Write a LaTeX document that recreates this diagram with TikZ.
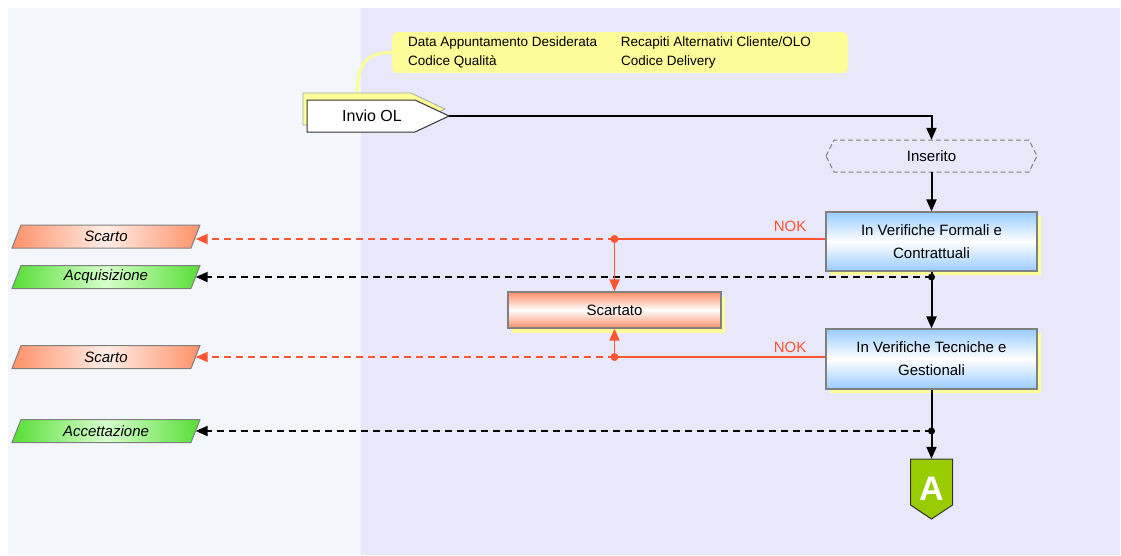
\documentclass[tikz,border=0pt]{standalone}
\usepackage{fontspec}
\setmainfont{Liberation Sans}
\usetikzlibrary{arrows.meta,shadows}
\definecolor{leftbg}{HTML}{F3F7FB}
\definecolor{rightbg}{HTML}{E8E8FA}
\definecolor{noteY}{HTML}{FCFC99}
\definecolor{shadowY}{HTML}{FFFF99}
\definecolor{boxgray}{HTML}{808080}
\definecolor{blueE}{HTML}{99CCFF}
\definecolor{orangeL}{HTML}{FF5533}
\definecolor{salmon}{HTML}{FF8F66}
\definecolor{salmonC}{HTML}{FFEDE6}
\definecolor{greenE}{HTML}{55DD33}
\definecolor{greenC}{HTML}{D6FFCC}
\definecolor{aGreen}{HTML}{99CC00}
\begin{document}
\begin{tikzpicture}[x=1pt,y=-1pt,
  txt/.style={font=\fontsize{15}{23}\selectfont},
  vbox/.style={rectangle, draw=boxgray, line width=1.2pt, top color=blueE, bottom color=blueE, middle color=white,
    minimum width=211pt, minimum height=59pt, align=center, inner sep=0pt, txt,
    drop shadow={shadow xshift=4pt, shadow yshift=-4pt, fill=shadowY, opacity=1}},
  rbox/.style={rectangle, draw=boxgray, line width=1.2pt, top color=salmon, bottom color=salmon, middle color=white,
    minimum width=213pt, minimum height=36pt, align=center, inner sep=0pt, txt,
    drop shadow={shadow xshift=4pt, shadow yshift=-5pt, fill=shadowY, opacity=1}},
  para/.style={draw=boxgray, line width=1pt},
  ptext/.style={minimum height=23pt, minimum width=179pt, inner sep=0pt, font=\fontsize{15}{18}\selectfont\itshape},
  arr/.style={-{Triangle[length=12pt,width=10pt]}},
  bline/.style={line width=2pt, draw=black},
  bdash/.style={bline, dash pattern=on 7pt off 5pt},
  oline/.style={line width=1.8pt, draw=orangeL},
  odash/.style={oline, dash pattern=on 7pt off 5pt},
]
\useasboundingbox (0,0) rectangle (1121,555);
% panels
\fill[leftbg] (8,8) rectangle (361,555);
\fill[rightbg] (361,8) rectangle (1120,555);

% callout note
\node[fill=noteY, rounded corners=6pt, minimum width=456pt, minimum height=41pt, inner sep=0pt,
  font=\fontsize{13.5}{19}\selectfont] (note) at (620,52.5)
  {\raisebox{-3pt}{\begin{tabular}{@{\hspace{16pt}}p{213pt}@{}p{227pt}@{}}Data Appuntamento Desiderata & Recapiti Alternativi Cliente/OLO\\ Codice Qualità & Codice Delivery\end{tabular}}};
\draw[noteY, line width=3pt] (357,94) .. controls (357,62) and (368,52.5) .. (note.west);

% Invio OL
\filldraw[fill=shadowY, draw=gray!70, line width=0.8pt] (303,93) -- (411,93) -- (445,109) -- (411,125) -- (303,125) -- cycle;
\filldraw[fill=white, draw=black!80, line width=1pt] (307,100) -- (415,100) -- (449,116) -- (415,132) -- (307,132) -- cycle;
\node[minimum width=142pt, minimum height=32pt, inner sep=0pt, font=\fontsize{16}{18}\selectfont] (invio) at (378,116) {\hspace*{-12pt}Invio OL};

% Inserito
\draw[boxgray, line width=1pt, dash pattern=on 5pt off 3pt] (826,156) -- (834,140) -- (1029,140) -- (1037,156) -- (1029,172) -- (834,172) -- cycle;
\node[minimum width=211pt, minimum height=32pt, inner sep=0pt, txt] (ins) at (931.5,156) {Inserito};

% boxes
\node[vbox] (v1) at (931.5,241.5) {In Verifiche Formali e\\Contrattuali};
\node[vbox, minimum height=60pt] (v2) at (931.5,359) {In Verifiche Tecniche e\\Gestionali};
\node[rbox] (scartato) at (614.5,310) {Scartato};

% A connector
\filldraw[fill=aGreen, draw=black!80, line width=1pt] (910.5,459) -- (952.5,459) -- (952.5,505) -- (931.5,519) -- (910.5,505) -- cycle;
\node[inner sep=0pt, minimum width=42pt, minimum height=60pt, text=white, font=\fontsize{34}{34}\selectfont\bfseries] (A) at (931.5,489) {A};

% left parallelograms
\foreach \yt/\cE/\cC in {225/salmon/salmonC, 265.5/greenE/greenC, 345.5/salmon/salmonC, 419.5/greenE/greenC}{
  \begin{scope}
    \clip (12,\yt+23) -- (21,\yt) -- (200,\yt) -- (191,\yt+23) -- cycle;
    \shade[left color=\cE, right color=\cC] (11,\yt-1) rectangle (106,\yt+24);
    \shade[left color=\cC, right color=\cE] (106,\yt-1) rectangle (201,\yt+24);
  \end{scope}
  \draw[para] (12,\yt+23) -- (21,\yt) -- (200,\yt) -- (191,\yt+23) -- cycle;
}
\node[ptext] (sc1) at (106,236.5) {Scarto};
\node[ptext] (acq) at (106,277) {Acquisizione};
\node[ptext] (sc2) at (106,357) {Scarto};
\node[ptext] (acc) at (106,431) {Accettazione};

% junctions
\coordinate (j1) at (931.5,277);
\coordinate (j2) at (931.5,431);
\coordinate (n1) at (614.5,239);
\coordinate (n2) at (614.5,357);

% black connectors
\draw[bline, arr] (invio.east) -| (ins.north);
\draw[bline, arr] (ins.south) -- (v1.north);
\draw[bline, arr] (v1.south) -- (v2.north);
\draw[bline, arr] (v2.south) -- (A.north);
\draw[bdash, arr] (j1) -- (acq.east);
\draw[bdash, arr] (j2) -- (acc.east);
\fill (j1) circle (3.5pt);
\fill (j2) circle (3.5pt);

% orange connectors
\draw[oline] (v1.west |- n1) -- (n1);
\draw[odash, arr] (n1) -- (n1 -| sc1.east);
\draw[oline, arr] (n1) -- (scartato.north);
\draw[oline] (v2.west |- n2) -- (n2);
\draw[odash, arr] (n2) -- (n2 -| sc2.east);
\draw[oline, arr] (n2) -- (scartato.south);
\fill[orangeL] (n1) circle (4pt);
\fill[orangeL] (n2) circle (4pt);
\node[text=orangeL, txt] (nok1) at (790,226) {NOK};
\node[text=orangeL, txt] (nok2) at (790,347) {NOK};
\end{tikzpicture}
\end{document}
